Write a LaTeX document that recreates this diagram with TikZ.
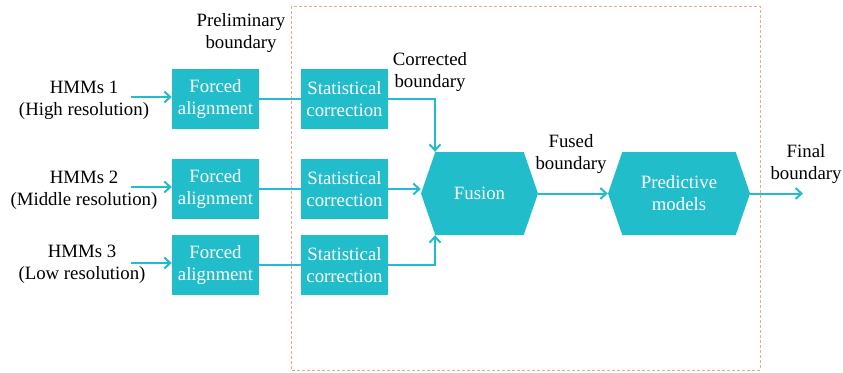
\documentclass[tikz,border=0pt]{standalone}
\usepackage{fontspec}
\setmainfont{Liberation Serif}
\usetikzlibrary{shapes.symbols,arrows.meta}
\definecolor{teal}{HTML}{21BDCA}
\definecolor{frame}{HTML}{F2A48A}
\tikzset{
	procbox/.style={fill=teal, text=white, minimum width=87pt, minimum height=60pt, align=center, inner sep=0pt},
	hexbox/.style={shape=signal, signal to=east and west, signal pointer angle=142, fill=teal, text=white, minimum height=83pt, align=center, inner sep=0pt},
	label/.style={align=center, inner sep=0pt},
	flow/.style={draw=teal, line width=2pt, -{Straight Barb[length=6pt,width=11pt]}},
	link/.style={draw=teal, line width=2pt}
}
\begin{document}
\begin{tikzpicture}[x=1pt,y=-1pt,font=\fontsize{18.8}{22}\selectfont]
	\useasboundingbox (0,0) rectangle (843,372);
	\draw[frame, densely dashed, line width=0.7pt] (291,6) rectangle (760,370);
	
	\node[label] (hmm1) at (84,100) {HMMs 1\\(High resolution)};
	\node[label] (hmm2) at (84,190) {HMMs 2\\(Middle resolution)};
	\node[label] (hmm3) at (82,264) {HMMs 3\\(Low resolution)};
	
	\node[procbox] (fa1) at (215.5,99) {Forced\\alignment};
	\node[procbox] (fa2) at (215.5,189) {Forced\\alignment};
	\node[procbox] (fa3) at (215.5,265) {Forced\\alignment};
	
	\node[procbox] (sc1) at (344.5,99) {Statistical\\correction};
	\node[procbox] (sc2) at (344.5,189) {Statistical\\correction};
	\node[procbox] (sc3) at (344.5,265) {Statistical\\correction};
	
	\node[hexbox, minimum width=117pt] (fusion) at (479.5,193.5) {Fusion};
	\node[hexbox, minimum width=142pt] (pred) at (679,193.5) {Predictive\\models};
	
	\node[label] (prelim) at (241,33) {Preliminary\\boundary};
	\node[label] (corr) at (430,72) {Corrected\\boundary};
	\node[label] (fused) at (571,154) {Fused\\boundary};
	\node[label] (final) at (806,164) {Final\\boundary};
	
	\coordinate (in1) at (131,97);
	\coordinate (in2) at (131,187);
	\coordinate (in3) at (131,263);
	\coordinate (out) at (803,193.5);
	\coordinate (ftop) at ([xshift=-44.5pt]fusion.north);
	\coordinate (fbot) at ([xshift=-44.5pt]fusion.south);
	
	\draw[flow] (in1) -- (in1 -| fa1.west);
	\draw[flow] (in2) -- (in2 -| fa2.west);
	\draw[flow] (in3) -- (in3 -| fa3.west);
	
	\draw[link] (fa1.east) -- (sc1.west);
	\draw[link] (fa2.east) -- (sc2.west);
	\draw[link] (fa3.east) -- (sc3.west);
	
	\draw[flow] (sc1.east) -| (ftop);
	\draw[flow] (sc2.east) -- (sc2.east -| fusion.west);
	\draw[flow] (sc3.east) -| (fbot);
	
	\draw[flow] (fusion.east) -- (pred.west);
	\draw[flow] (pred.east) -- (out);
\end{tikzpicture}
\end{document}
